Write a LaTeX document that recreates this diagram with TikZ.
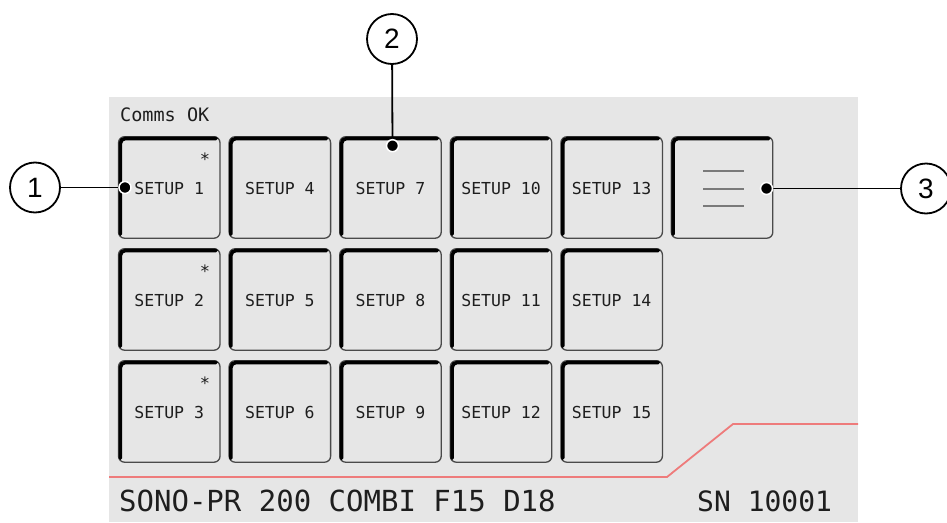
\documentclass[tikz,border=0pt]{standalone}
\usepackage{fontspec}
\setmainfont{Liberation Sans}
\setmonofont{DejaVu Sans Mono}
\definecolor{panel}{HTML}{E6E6E6}
\definecolor{btnedge}{HTML}{4A4A4A}
\definecolor{ink}{HTML}{1E1E1E}
\definecolor{menugray}{HTML}{7A7A7A}
\definecolor{alarm}{HTML}{EE7B7B}
\tikzset{
  btn/.style={draw=btnedge, fill=panel, rounded corners=6pt, line width=1.3pt,
    minimum width=101.5pt, minimum height=101.5pt, inner sep=0pt, text=ink,
    text height=15pt, text depth=0pt,
    font=\ttfamily\fontsize{16.5}{18}\selectfont},
  ridge/.style={draw=black, line width=3.6pt, rounded corners=5pt, line cap=round},
  star/.style={inner sep=0pt, text=ink, font=\ttfamily\fontsize{17}{18}\selectfont},
  callout/.style={circle, draw=black, fill=white, line width=1.8pt, minimum size=50pt,
    inner sep=0pt, font=\fontsize{28}{30}\selectfont},
  leader/.style={draw=black, line width=1.8pt},
  dot/.style={circle, fill=black, draw=white, line width=1.5pt, minimum size=12pt, inner sep=0pt},
  menuline/.style={draw=menugray, line width=2pt},
  alarmline/.style={draw=alarm, line width=1.8pt},
  lcd/.style={inner sep=0pt, text=ink, anchor=base west}
}
\begin{document}
\begin{tikzpicture}[x=1pt, y=-1pt]
\useasboundingbox (0,0) rectangle (947,522);
% display panel
\fill[panel] (109,97) rectangle (858,522);
\node[lcd, font=\ttfamily\fontsize{18.5}{20}\selectfont] (status) at (120,121.7) {Comms OK};

% setup buttons, three rows by five columns
\foreach \c in {0,...,4}{
  \foreach \r in {0,1,2}{
    \pgfmathtruncatemacro\n{\c*3+\r+1}
    \pgfmathsetmacro\bx{118.5+110.6*\c}
    \pgfmathsetmacro\by{136.7+112*\r}
    \node[btn] (s\n) at (\bx+50.75,\by+50.75) {SETUP \n};
    \draw[ridge] (\bx+1.8,\by+101.5-4) -- (\bx+1.8,\by+1.8) -- (\bx+101.5-4,\by+1.8);
  }
}
% marks on the first column
\foreach \r in {0,1,2}{
  \pgfmathtruncatemacro\n{\r+1}
  \node[star] (m\n) at (205,136.7+112*\r+22) {*};
}

% menu button
\node[btn] (menu) at (671.3+50.75,136.7+50.75) {};
\draw[ridge] (671.3+1.8,136.7+101.5-4) -- (671.3+1.8,136.7+1.8) -- (671.3+101.5-4,136.7+1.8);
\foreach \dy in {-17.5,0,17.5}
  \draw[menuline] (703.3,188.5+\dy) -- (744.3,188.5+\dy);

% alarm trace
\draw[alarmline] (109,477) -- (667,477) -- (733,424) -- (858,424);

% footer
\node[lcd, font=\ttfamily\fontsize{29}{30}\selectfont] (model) at (119,511) {SONO-PR 200 COMBI F15 D18};
\node[lcd, font=\ttfamily\fontsize{28}{30}\selectfont] (serial) at (697,511) {SN 10001};

% callouts
\node[callout] (c1) at (35,187.5) {1};
\node[callout] (c2) at (392,39) {2};
\node[callout] (c3) at (926,188.5) {3};
\coordinate (p1) at (125,187.5);
\coordinate (p2) at (392.5,145.7);
\coordinate (p3) at (766.5,188.5);
\draw[leader] (c1) -- (p1);
\draw[leader] (c2) -- (p2);
\draw[leader] (c3) -- (p3);
\node[dot] at (p1) {};
\node[dot] at (p2) {};
\node[dot] at (p3) {};
\end{tikzpicture}
\end{document}
